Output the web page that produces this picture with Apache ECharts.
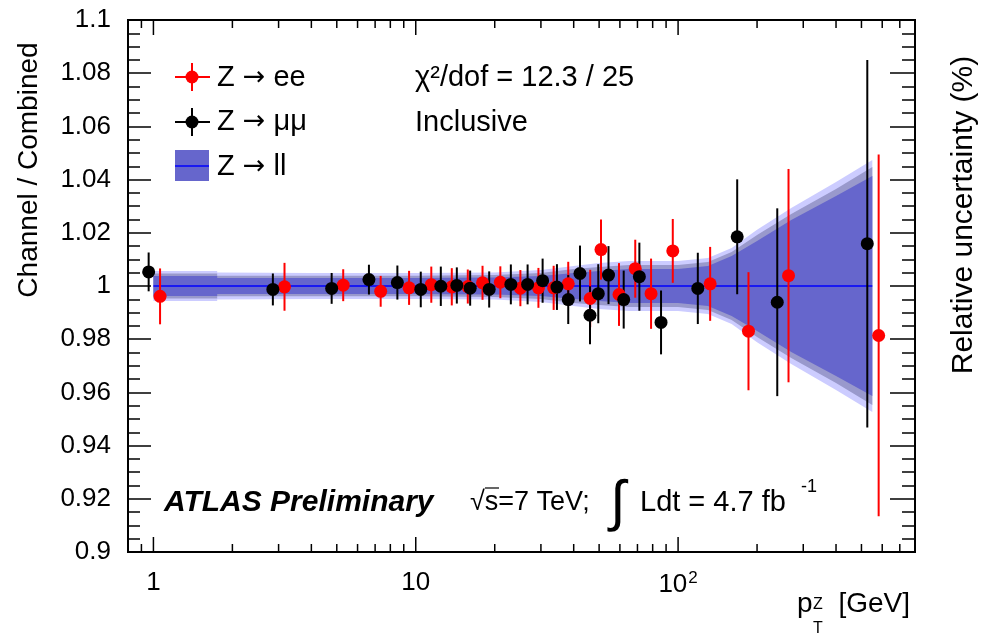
<!DOCTYPE html>
<html><head><meta charset="utf-8">
<script src="https://cdn.jsdelivr.net/npm/echarts@6/dist/echarts.min.js"></script>
<style>html,body{margin:0;padding:0;background:#fff}#c{width:984px;height:638px}</style>
</head><body><div id="c"></div>
<script>
// ---- data ----
const eeX   = [1.06, 3.16, 5.29, 7.35, 9.43, 11.46, 13.72, 15.79, 17.97, 21.01, 25.05, 29.35, 33.55, 38.13, 46.23, 50.83, 59.54, 68.66, 78.88, 95.45, 132.5, 185.5, 263.6, 581.5];
const eeY   = [0.9961, 0.9997, 1.0003, 0.9980, 0.9993, 1.0005, 0.9997, 0.9998, 1.0012, 1.0014, 0.9992, 0.9993, 0.9993, 1.0008, 0.9953, 1.0137, 0.9968, 1.0065, 0.9971, 1.0132, 1.0008, 0.9830, 1.0039, 0.9814];
const eeErr = [0.0105, 0.0090, 0.0060, 0.0058, 0.0064, 0.0068, 0.0070, 0.0064, 0.0064, 0.0060, 0.0068, 0.0075, 0.0083, 0.0083, 0.0108, 0.0113, 0.0118, 0.0109, 0.0132, 0.0120, 0.0139, 0.0222, 0.0401, 0.0680];

const mmX   = [0.959, 2.853, 4.78, 6.63, 8.51, 10.45, 12.46, 14.34, 16.12, 19.05, 23.04, 26.69, 30.45, 34.53, 38.13, 42.27, 46.15, 49.63, 54.29, 62.04, 71.19, 86.1, 118.9, 168.0, 238.8, 526.3];
const mmY   = [1.0053, 0.9987, 0.9991, 1.0024, 1.0013, 0.9987, 0.9999, 1.0002, 0.9992, 0.9987, 1.0006, 1.0006, 1.0020, 0.9996, 0.9949, 1.0047, 0.9890, 0.9971, 1.0041, 0.9949, 1.0035, 0.9863, 0.9991, 1.0185, 0.9939, 1.0159];
const mmErr = [0.0073, 0.0060, 0.0058, 0.0056, 0.0064, 0.0067, 0.0074, 0.0068, 0.0066, 0.0068, 0.0075, 0.0075, 0.0083, 0.0086, 0.0092, 0.0105, 0.0109, 0.0111, 0.0109, 0.0109, 0.0128, 0.0120, 0.0134, 0.0216, 0.0353, 0.0691];

// combined uncertainty band (half widths around 1)
const bandCenter = 1;
const bandX     = [1.0, 1.75, 1.75, 4, 10, 20, 30, 40, 50, 65, 100, 130, 160, 200, 270, 400, 550];
const bandInner = [0.0038, 0.0038, 0.0030, 0.0030, 0.0030, 0.0032, 0.0038, 0.0049, 0.0056, 0.0064, 0.0064, 0.0075, 0.0113, 0.0169, 0.0248, 0.0338, 0.0414];
const bandMid   = [0.0047, 0.0047, 0.0039, 0.0039, 0.0039, 0.0041, 0.0049, 0.0064, 0.0071, 0.0079, 0.0079, 0.0090, 0.0128, 0.0192, 0.0271, 0.0365, 0.0447];
const bandOuter = [0.0056, 0.0056, 0.0051, 0.0049, 0.0049, 0.0051, 0.0060, 0.0075, 0.0086, 0.0094, 0.0094, 0.0105, 0.0143, 0.0211, 0.0293, 0.0391, 0.0474];
const lineX = [1.0, 550];
const lineY = [1, 1];

const xMajorTicks = [1, 10, 100];
const xMinorTicks = [0.9, 2, 3, 4, 5, 6, 7, 8, 9, 20, 30, 40, 50, 60, 70, 80, 90, 200, 300, 400, 500, 600, 700];
const yTicks = [0.9, 0.92, 0.94, 0.96, 0.98, 1, 1.02, 1.04, 1.06, 1.08, 1.1];

// ---- chart ----
const FONT = '"Liberation Sans", Arial, Helvetica, sans-serif';
const chart = echarts.init(document.getElementById('c'), null, {renderer: 'canvas'});

function isPow10(v) { const l = Math.log10(v); return Math.abs(l - Math.round(l)) < 1e-6; }

function tickSeries(values, len) {
  return {
    type: 'custom', silent: true, z: 5,
    data: values.map(v => [v, yTicks[0]]),
    renderItem: function (params, api) {
      const x = api.value(0);
      const b = api.coord([x, yTicks[0]]);
      const t = api.coord([x, yTicks[yTicks.length - 1]]);
      return {type: 'group', children: [
        {type: 'line', shape: {x1: b[0], y1: b[1], x2: b[0], y2: b[1] - len}, style: {stroke: '#000', lineWidth: 1.5}},
        {type: 'line', shape: {x1: t[0], y1: t[1], x2: t[0], y2: t[1] + len}, style: {stroke: '#000', lineWidth: 1.5}}
      ]};
    }
  };
}

function errSeries(xs, ys, es, color) {
  return {
    type: 'custom', silent: true, z: 3,
    data: xs.map((x, i) => [x, ys[i], es[i]]),
    renderItem: function (params, api) {
      const x = api.value(0), y = api.value(1), e = api.value(2);
      const lo = api.coord([x, y - e]);
      const hi = api.coord([x, y + e]);
      return {type: 'line', shape: {x1: lo[0], y1: lo[1], x2: hi[0], y2: hi[1]}, style: {stroke: color, lineWidth: 2}};
    }
  };
}

const bandSeries = {
  type: 'custom', silent: true, z: 1,
  data: [[bandX[0], bandCenter]],
  renderItem: function (params, api) {
    function poly(w, color) {
      const pts = [];
      for (let i = 0; i < bandX.length; i++) pts.push(api.coord([bandX[i], bandCenter + w[i]]));
      for (let i = bandX.length - 1; i >= 0; i--) pts.push(api.coord([bandX[i], bandCenter - w[i]]));
      return {type: 'polygon', shape: {points: pts}, style: {fill: color}};
    }
    return {type: 'group', children: [
      poly(bandOuter, '#ccccff'),
      poly(bandMid, '#9999cc'),
      poly(bandInner, '#6666cc')
    ]};
  }
};

const legRich = {
  a: {fontSize: 29, fontFamily: FONT, color: '#000'},
  r: {fontSize: 27, fontFamily: '"DejaVu Sans", ' + FONT, color: '#000'}
};
function legText(x, y, txt) {
  return {type: 'text', x: x, y: y, style: {text: '{a|Z }{r|→}{a| ' + txt + '}', rich: legRich,
    textVerticalAlign: 'middle', verticalAlign: 'middle'}};
}

const option = {
  animation: false,
  backgroundColor: '#fff',
  grid: {left: 128, right: 69, top: 20, bottom: 86, show: true, borderColor: '#000', borderWidth: 2, backgroundColor: 'transparent'},
  xAxis: {
    type: 'log', logBase: 10, min: 0.8, max: 800,
    axisLine: {show: true, lineStyle: {color: '#000', width: 2}},
    axisTick: {show: false},
    minorTick: {show: false},
    splitLine: {show: false},
    axisLabel: {
      margin: 18, color: '#000', fontFamily: FONT, fontSize: 26,
      formatter: function (v) {
        if (!isPow10(v)) return '';
        const p = Math.round(Math.log10(v));
        if (p === 0) return '1';
        if (p === 1) return '10';
        return '{b|10}{s|' + p + '}';
      },
      rich: {
        b: {fontSize: 26, fontFamily: FONT, color: '#000'},
        s: {fontSize: 17, fontFamily: FONT, color: '#000', verticalAlign: 'top', padding: [0, 0, 12, 1]}
      }
    }
  },
  yAxis: [{
    type: 'value', min: 0.9, max: 1.1, interval: 0.02, position: 'left',
    axisLine: {show: true, lineStyle: {color: '#000', width: 2}},
    axisTick: {show: true, inside: true, length: 23, lineStyle: {color: '#000', width: 1.5}},
    minorTick: {show: true, splitNumber: 4, length: 12, lineStyle: {color: '#000', width: 1.5}},
    splitLine: {show: false},
    axisLabel: {margin: 17, color: '#000', fontFamily: FONT, fontSize: 26,
      formatter: v => String(+v.toFixed(2))}
  }, {
    type: 'value', min: 0.9, max: 1.1, interval: 0.02, position: 'right',
    axisLine: {show: true, lineStyle: {color: '#000', width: 2}},
    axisTick: {show: true, inside: true, length: 25, lineStyle: {color: '#000', width: 1.5}},
    minorTick: {show: true, splitNumber: 4, length: 13, lineStyle: {color: '#000', width: 1.5}},
    splitLine: {show: false},
    axisLabel: {show: false}
  }],
  series: [
    bandSeries,
    {type: 'line', name: 'Z → ll', data: lineX.map((x, i) => [x, lineY[i]]), symbol: 'none', z: 2,
     lineStyle: {color: '#0000ff', width: 1.5}, silent: true},
    errSeries(eeX, eeY, eeErr, '#ff0000'),
    {type: 'scatter', name: 'Z → ee', data: eeX.map((x, i) => [x, eeY[i]]), symbolSize: 13, z: 3,
     itemStyle: {color: '#ff0000', opacity: 1}, silent: true},
    errSeries(mmX, mmY, mmErr, '#000000'),
    {type: 'scatter', name: 'Z → μμ', data: mmX.map((x, i) => [x, mmY[i]]), symbolSize: 13, z: 4,
     itemStyle: {color: '#000000', opacity: 1}, silent: true},
    tickSeries(xMajorTicks, 15),
    tickSeries(xMinorTicks, 8)
  ],
  graphic: [
    // axis titles
    {type: 'text', x: 29, y: 170, rotation: Math.PI / 2,
     style: {text: 'Channel / Combined', fill: '#000', font: '28px ' + FONT, textAlign: 'center', textVerticalAlign: 'middle', verticalAlign: 'middle'}},
    {type: 'text', x: 964, y: 215, rotation: Math.PI / 2,
     style: {text: 'Relative uncertainty (%)', fill: '#000', font: '30px ' + FONT, textAlign: 'center', textVerticalAlign: 'middle', verticalAlign: 'middle'}},
    {type: 'text', x: 797, y: 618, style: {text: 'p', fill: '#000', font: '28px ' + FONT, textAlign: 'left', textVerticalAlign: 'bottom', verticalAlign: 'bottom'}},
    {type: 'text', x: 813, y: 613, style: {text: 'Z', fill: '#000', font: '16px ' + FONT, textAlign: 'left', textVerticalAlign: 'bottom', verticalAlign: 'bottom'}},
    {type: 'text', x: 813, y: 621, style: {text: 'T', fill: '#000', font: '16px ' + FONT, textAlign: 'left', textVerticalAlign: 'top', verticalAlign: 'top'}},
    {type: 'text', x: 910, y: 618, style: {text: '[GeV]', fill: '#000', font: '28px ' + FONT, textAlign: 'right', textVerticalAlign: 'bottom', verticalAlign: 'bottom'}},
    // legend
    {type: 'line', shape: {x1: 175, y1: 77, x2: 210, y2: 77}, style: {stroke: '#ff0000', lineWidth: 2}},
    {type: 'line', shape: {x1: 192, y1: 63, x2: 192, y2: 91}, style: {stroke: '#ff0000', lineWidth: 2}},
    {type: 'circle', shape: {cx: 192, cy: 77, r: 6.5}, style: {fill: '#ff0000'}},
    legText(217, 78, 'ee'),
    {type: 'line', shape: {x1: 175, y1: 122, x2: 210, y2: 122}, style: {stroke: '#000', lineWidth: 2}},
    {type: 'line', shape: {x1: 192, y1: 108, x2: 192, y2: 136}, style: {stroke: '#000', lineWidth: 2}},
    {type: 'circle', shape: {cx: 192, cy: 122, r: 6.5}, style: {fill: '#000'}},
    legText(217, 122, 'μμ'),
    {type: 'rect', shape: {x: 175, y: 150, width: 34, height: 31}, style: {fill: '#6666cc'}},
    {type: 'line', shape: {x1: 175, y1: 166, x2: 209, y2: 166}, style: {stroke: '#0000ff', lineWidth: 1.5}},
    legText(217, 167, 'll'),
    // annotations
    {type: 'text', x: 415, y: 78, style: {text: 'χ²/dof = 12.3 / 25', fill: '#000', font: '29px ' + FONT, textVerticalAlign: 'middle', verticalAlign: 'middle'}},
    {type: 'text', x: 415, y: 123, style: {text: 'Inclusive', fill: '#000', font: '29px ' + FONT, textVerticalAlign: 'middle', verticalAlign: 'middle'}},
    {type: 'text', x: 164, y: 503, style: {text: 'ATLAS Preliminary', fill: '#000', font: 'italic bold 30px ' + FONT, textVerticalAlign: 'middle', verticalAlign: 'middle'}},
    {type: 'text', x: 470, y: 503, style: {text: '√s=7 TeV;', fill: '#000', font: '27px ' + FONT, textVerticalAlign: 'middle', verticalAlign: 'middle'}},
    {type: 'line', shape: {x1: 485, y1: 488, x2: 499, y2: 488}, style: {stroke: '#000', lineWidth: 1.2}},
    {type: 'text', x: 618, y: 505, style: {text: '∫', fill: '#000', font: '56px ' + FONT, textAlign: 'center', textVerticalAlign: 'middle', verticalAlign: 'middle'}},
    {type: 'text', x: 640, y: 503, style: {text: 'Ldt = 4.7 fb', fill: '#000', font: '29px ' + FONT, textVerticalAlign: 'middle', verticalAlign: 'middle'}},
    {type: 'text', x: 801, y: 487, style: {text: '-1', fill: '#000', font: '18px ' + FONT, textVerticalAlign: 'middle', verticalAlign: 'middle'}}
  ]
};
chart.setOption(option);
</script>
</body></html>
